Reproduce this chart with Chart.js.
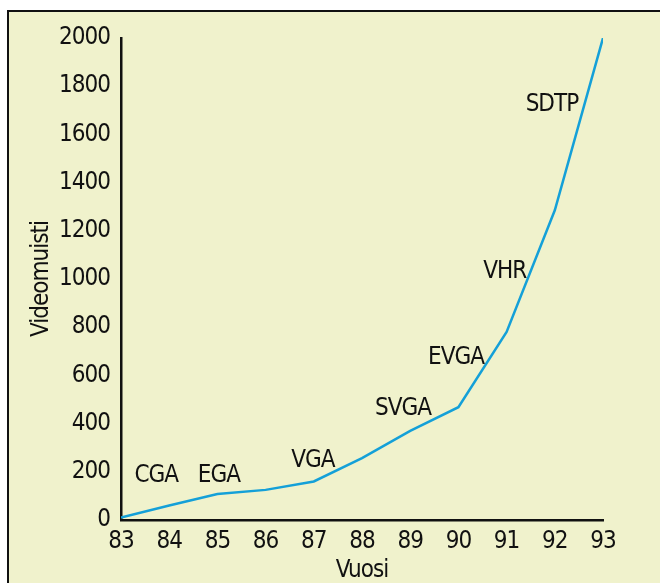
<!DOCTYPE html>
<html>
<head>
<meta charset="utf-8">
<script src="https://cdn.jsdelivr.net/npm/chart.js@4/dist/chart.umd.min.js"></script>
<style>
  html, body { margin: 0; padding: 0; background: #fff; overflow: hidden; }
  #frame {
    position: absolute; left: 7px; top: 10px; width: 700px; height: 640px;
    background: #f0f2cc; border: 2px solid #111;
  }
  #wrap { position: absolute; left: 0; top: 0; width: 660px; height: 583px; }
</style>
</head>
<body>
<div id="frame"></div>
<div id="wrap"><canvas id="chart" width="660" height="583"></canvas></div>
<script>
// vuodet ja videomuistin määrä
const years = [83, 84, 85, 86, 87, 88, 89, 90, 91, 92, 93];
const memory = [10, 60, 108, 125, 160, 257, 370, 468, 780, 1285, 2000];

// näytönohjainstandardien nimet ja niiden kohdat (vuosi, arvo)
const cardNames = ["CGA", "EGA", "VGA", "SVGA", "EVGA", "VHR", "SDTP"];
const cardYears = [83.73, 85.03, 86.98, 88.85, 89.95, 90.96, 91.94];
const cardValues = [158, 158, 220, 437, 649, 1006, 1696];

const yTicks = [0, 200, 400, 600, 800, 1000, 1200, 1400, 1600, 1800, 2000];

const FONT = '"DejaVu Sans Condensed", "Liberation Sans Narrow", sans-serif';
const SIZE = 24;
const INK = "#111";

// kapeampi kirjainväli koko kaavioon
const tightText = {
  id: "tightText",
  beforeDraw(chart) {
    chart.ctx.letterSpacing = "-1px";
  },
};

const cardLabels = {
  id: "cardLabels",
  afterDatasetsDraw(chart) {
    const { ctx, scales } = chart;
    ctx.save();
    ctx.font = `${SIZE}px ${FONT}`;
    ctx.fillStyle = INK;
    ctx.textAlign = "center";
    ctx.textBaseline = "alphabetic";
    cardNames.forEach((name, i) => {
      const x = scales.x.getPixelForValue(cardYears[i]);
      const y = scales.y.getPixelForValue(cardValues[i]);
      ctx.fillText(name, x, y);
    });
    ctx.restore();
  },
};

new Chart(document.getElementById("chart"), {
  type: "line",
  data: {
    datasets: [
      {
        data: years.map((v, i) => ({ x: v, y: memory[i] })),
        borderColor: "#14a0d8",
        borderWidth: 2.5,
        pointRadius: 0,
        tension: 0,
        fill: false,
      },
    ],
  },
  options: {
    responsive: false,
    animation: false,
    layout: { padding: { left: 0, top: 38, right: 57, bottom: 0 } },
    plugins: { legend: { display: false }, tooltip: { enabled: false } },
    scales: {
      x: {
        type: "linear",
        min: 83,
        max: 93,
        afterFit: (s) => { s.height = 63; },
        afterBuildTicks: (s) => { s.ticks = years.map((v) => ({ value: v })); },
        grid: { display: false, drawTicks: false },
        border: { display: true, color: INK, width: 2.5 },
        ticks: {
          color: INK,
          padding: 7,
          maxRotation: 0,
          font: { family: FONT, size: SIZE },
          callback: (v) => String(v),
        },
        title: {
          display: true,
          text: "Vuosi",
          color: INK,
          padding: { top: 0, bottom: 0 },
          font: { family: FONT, size: SIZE, lineHeight: 1 },
        },
      },
      y: {
        min: 0,
        max: 2000,
        afterFit: (s) => { s.width = 121; },
        afterBuildTicks: (s) => { s.ticks = yTicks.map((v) => ({ value: v })); },
        grid: { display: false, drawTicks: false },
        border: { display: true, color: INK, width: 2.5 },
        ticks: {
          color: INK,
          padding: 11,
          font: { family: FONT, size: SIZE },
          callback: (v) => String(v),
        },
        title: {
          display: true,
          text: "Videomuisti",
          color: INK,
          padding: { top: 30, bottom: 0 },
          font: { family: FONT, size: SIZE, lineHeight: 1 },
        },
      },
    },
  },
  plugins: [tightText, cardLabels],
});
</script>
</body>
</html>
